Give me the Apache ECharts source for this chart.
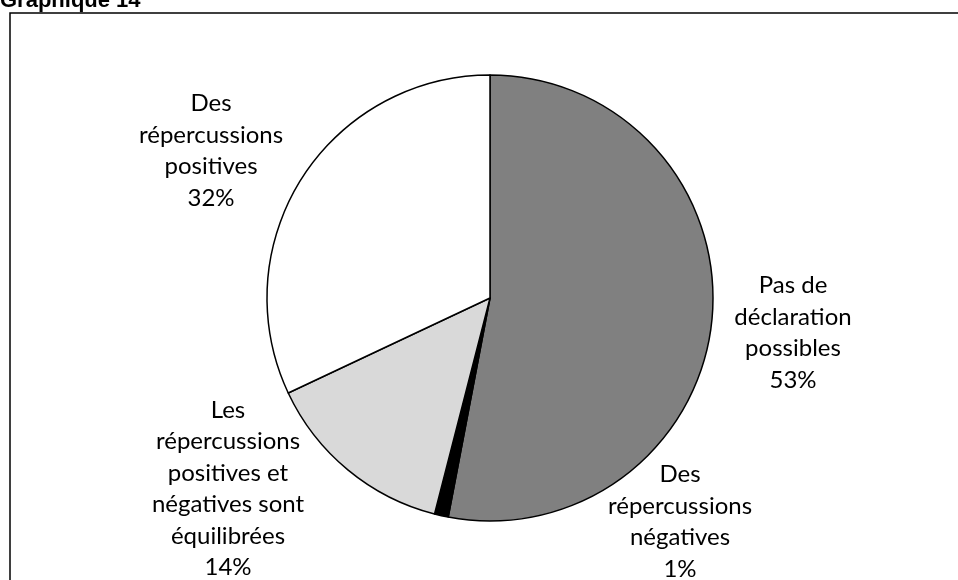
<!DOCTYPE html>
<html><head><meta charset="utf-8">
<script src="https://cdn.jsdelivr.net/npm/echarts@6/dist/echarts.min.js"></script>
<style>html,body{margin:0;padding:0;background:#fff}#c{width:958px;height:580px}</style>
</head><body><div id="c"></div>
<script>
const categories = ["Pas de\ndéclaration\npossibles", "Des\nrépercussions\nnégatives", "Les\nrépercussions\npositives et\nnégatives sont\néquilibrées", "Des\nrépercussions\npositives"];
const values = [53, 1, 14, 32];
const colors = ["#808080", "#000000", "#d9d9d9", "#ffffff"];
const labelPos = [[793, 333], [680, 522], [228, 489], [211, 151]];

const chart = echarts.init(document.getElementById('c'), null, {renderer: 'canvas'});
chart.setOption({
  animation: false,
  backgroundColor: '#fff',
  graphic: [
    {type: 'rect', shape: {x: 10, y: 13, width: 1000, height: 700}, style: {fill: 'none', stroke: '#000', lineWidth: 1.5}, z: -1},
    {type: 'text', left: 0, top: -10, style: {text: 'Graphique 14', font: 'bold 22px "Liberation Sans", Arial, sans-serif', fill: '#000'}}
  ],
  series: [{
    type: 'pie',
    center: [490, 298],
    radius: 223,
    startAngle: 90,
    clockwise: true,
    data: categories.map((c, i) => ({name: c, value: values[i], itemStyle: {color: colors[i]}})),
    itemStyle: {borderColor: '#000', borderWidth: 1.5},
    label: {
      show: true,
      formatter: p => p.name + '\n' + p.value + '%',
      fontFamily: 'Lato, "Open Sans", sans-serif',
      fontSize: 24,
      lineHeight: 31.5,
      color: '#000',
      align: 'center'
    },
    labelLine: {show: false},
    labelLayout: p => ({x: labelPos[p.dataIndex][0], y: labelPos[p.dataIndex][1], align: 'center', verticalAlign: 'middle'}),
    emphasis: {disabled: true}
  }]
});
</script></body></html>
